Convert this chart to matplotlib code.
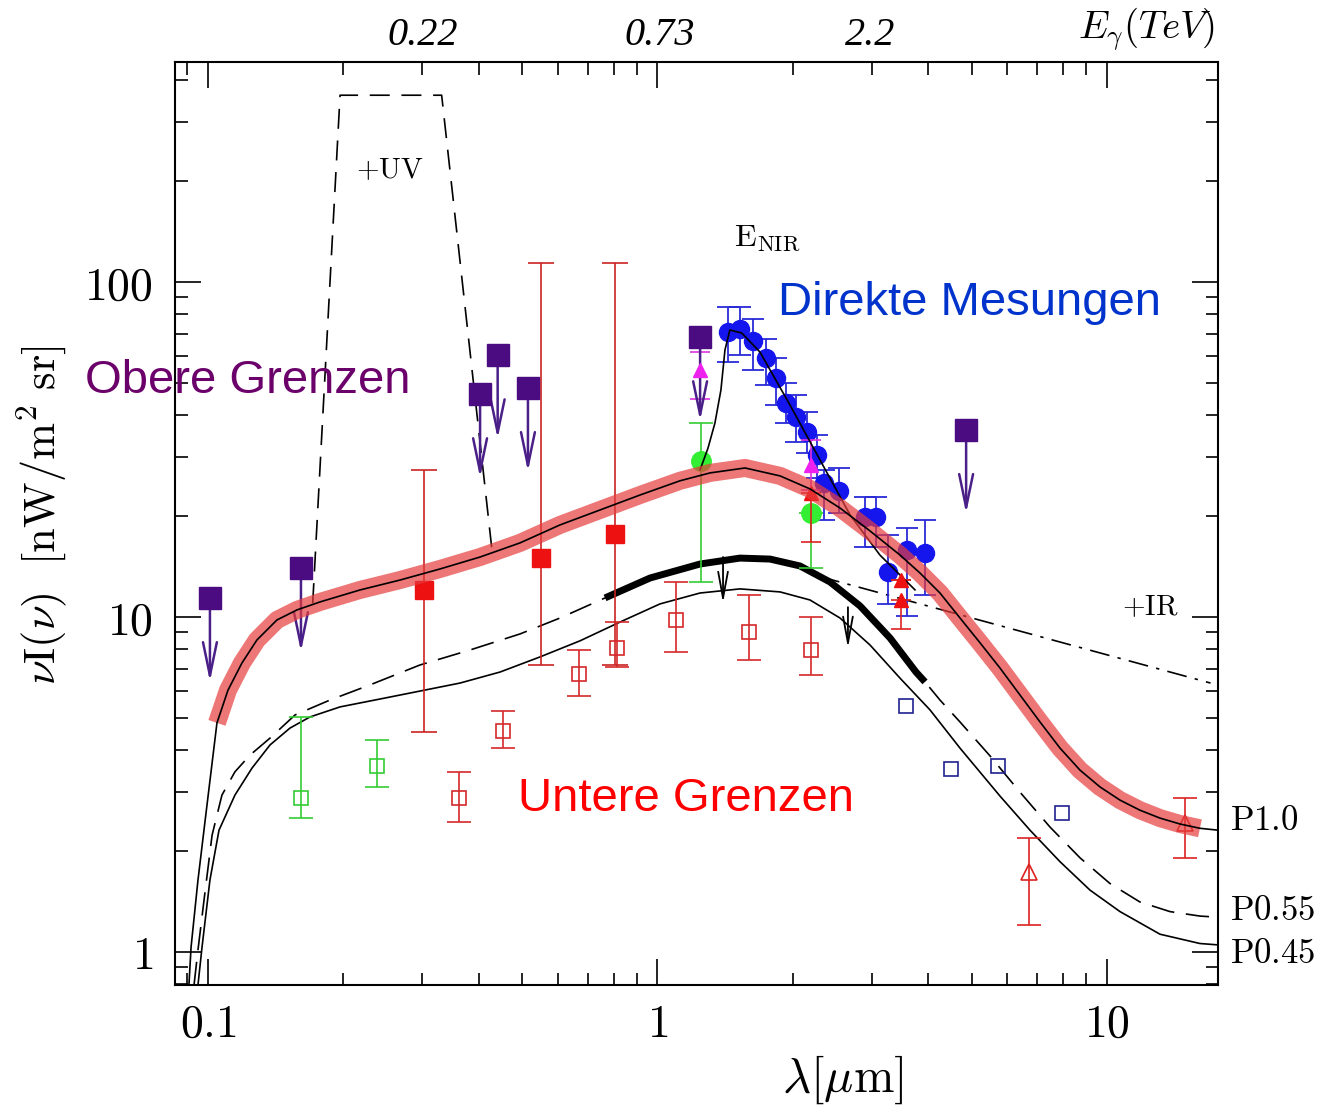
import numpy as np
import matplotlib
matplotlib.use("Agg")
import matplotlib.pyplot as plt
from matplotlib.ticker import FixedLocator, FixedFormatter, NullFormatter, LogLocator
from matplotlib.transforms import blended_transform_factory

plt.rcParams['mathtext.fontset'] = 'cm'

# ------------------------------------------------------------------ data
# upper limits (purple squares with arrows)
ul_x = [0.101, 0.161, 0.403, 0.441, 0.515, 1.244, 4.86]
ul_y = [11.4, 14.0, 46.3, 60.5, 48.3, 68.5, 36.2]

# lower limits, filled red squares with large error bars
rs_x = [0.302, 0.551, 0.803]
rs_y = [12.0, 15.0, 17.7]
rs_lo = [4.54, 7.19, 7.2]
rs_hi = [27.5, 114.0, 114.0]

# lower limits, open red squares
ors_x = [0.361, 0.453, 0.668, 0.813, 1.099, 1.60, 2.20]
ors_y = [2.88, 4.57, 6.76, 8.08, 9.80, 9.02, 7.97]
ors_lo = [2.44, 4.06, 5.81, 7.09, 7.87, 7.44, 6.71]
ors_hi = [3.45, 5.24, 7.97, 9.66, 12.7, 11.6, 10.0]

# lower limits, open green squares
ogs_x = [0.161, 0.238]
ogs_y = [2.88, 3.59]
ogs_lo = [2.51, 3.11]
ogs_hi = [5.03, 4.29]

# open blue squares
obs_x = [3.57, 4.50, 5.72, 7.94]
obs_y = [5.42, 3.52, 3.59, 2.60]

# open red triangles
ort_x = [6.70, 14.9]
ort_y = [1.73, 2.43]
ort_lo = [1.20, 1.91]
ort_hi = [2.19, 2.88]

# direct measurements (blue circles)
dm_x = [1.435, 1.526, 1.631, 1.743, 1.835, 1.932, 2.033, 2.151, 2.264, 2.347,
        2.534, 2.894, 3.062, 3.257, 3.591, 3.937]
dm_y = [70.9, 72.4, 66.7, 59.3, 51.7, 43.5, 39.5, 35.7, 30.5, 25.1,
        23.8, 19.9, 19.9, 13.6, 15.8, 15.5]
dm_lo = [57.7, 60.5, 54.6, 49.3, 42.9, 37.9, 33.3, 30.9, 26.0, 19.5,
         20.4, 16.2, 16.2, 10.9, 10.1, 11.6]
dm_hi = [84.2, 84.2, 77.6, 67.6, 59.3, 50.0, 46.0, 40.9, 34.9, 27.5,
         27.8, 22.8, 22.8, 17.6, 18.4, 19.5]

# green circles
gc_x = [1.250, 2.20]
gc_y = [29.2, 20.4]
gc_lo = [12.7, 14.0]
gc_hi = [37.9, 20.4]

# magenta triangles
mt_x = [1.244, 2.19]
mt_y = [54.6, 28.4]
mt_lo = [44.6, 24.0]
mt_hi = [62.0, 33.8]

# red filled triangles
rt_x = [2.19, 3.48, 3.48]
rt_y = [23.4, 12.9, 11.2]
rt_lo = [16.7, 12.9, 9.2]
rt_hi = [23.4, 12.9, 11.2]

# black upper-limit arrows on the lower curves
ba_x = [1.399, 2.653]
ba_top = [15.1, 10.7]
ba_bot = [11.0, 8.08]

# model P1.0
p10_x = [0.0907, 0.0917, 0.0950, 0.0990, 0.1047, 0.1108, 0.119, 0.1285, 0.1424,
         0.1578, 0.1775, 0.2178, 0.2674, 0.3282, 0.4029, 0.4945, 0.607, 0.7452,
         0.9147, 1.122, 1.309, 1.566, 1.874, 2.184, 2.547, 2.970, 3.463, 3.837,
         4.251, 4.71, 5.22, 5.781, 6.404, 7.096, 7.862, 8.71, 9.647, 10.69,
         11.84, 13.12, 14.54, 16.10, 17.66]
p10_y = [0.797, 1.035, 1.64, 2.60, 4.83, 6.05, 7.29, 8.54, 9.80,
         10.5, 11.09, 12.04, 12.89, 13.91, 15.10, 16.64, 18.83, 20.87,
         23.13, 25.50, 26.92, 27.85, 26.37, 24.12, 21.15, 18.07, 15.31, 13.53,
         11.79, 9.93, 8.37, 7.04, 5.85, 4.86, 4.06, 3.49, 3.11, 2.84,
         2.65, 2.51, 2.41, 2.34, 2.31]

# model P0.55
p055_x = [0.0931, 0.0950, 0.0980, 0.1021, 0.1074, 0.1148, 0.1240, 0.1374, 0.1562,
          0.1868, 0.2293, 0.2962, 0.3827, 0.4945, 0.607, 0.7644, 0.9623, 1.243,
          1.526, 1.780, 2.075, 2.420, 2.822, 3.290, 3.759, 3.937, 4.251, 4.71,
          5.492, 6.404, 7.469, 8.71, 10.16, 11.84, 13.81, 16.10, 17.66]
p055_y = [0.797, 1.014, 1.43, 2.23, 2.94, 3.45, 3.87, 4.35, 5.10,
          5.65, 6.27, 7.19, 7.97, 8.90, 9.93, 11.40, 13.07, 14.39,
          14.99, 14.89, 14.20, 12.72, 10.79, 8.66, 6.85, 6.40, 5.65, 4.86,
          3.85, 3.00, 2.36, 1.91, 1.60, 1.41, 1.32, 1.28, 1.27]

# model P0.45
p045_x = [0.0950, 0.0970, 0.1010, 0.1058, 0.1148, 0.1253, 0.1374, 0.1522, 0.1686,
          0.1967, 0.2413, 0.2962, 0.3636, 0.4464, 0.5479, 0.6726, 0.8256, 1.0129,
          1.243, 1.526, 1.874, 2.184, 2.547, 2.970, 3.463, 4.039, 4.71, 5.781,
          6.741, 7.862, 9.167, 10.69, 13.12, 16.10, 17.66]
p045_y = [0.797, 1.035, 1.64, 2.31, 2.94, 3.54, 4.15, 4.66, 5.03,
          5.39, 5.69, 6.01, 6.35, 6.85, 7.60, 8.49, 9.66, 10.94,
          11.79, 12.13, 11.88, 11.24, 9.93, 8.25, 6.57, 5.28, 4.06, 2.92,
          2.31, 1.86, 1.53, 1.32, 1.13, 1.06, 1.05]

# P1.0 + UV
uv_x = [0.171, 0.1967, 0.331, 0.430]
uv_y = [11.0, 361.0, 361.0, 15.1]

# P1.0 + IR
ir_x = [2.299, 17.0]
ir_y = [13.2, 6.35]

# E_NIR
nir_x = [1.244, 1.295, 1.342, 1.384, 1.413, 1.449, 1.54, 1.69, 1.972, 2.30,
         2.68, 3.126, 3.74]
nir_y = [27.5, 31.9, 37.9, 47.6, 62.7, 71.9, 70.4, 61.8, 42.9, 29.4,
         20.2, 15.3, 12.05]

# axes ticks and secondary energy labels
x_major = [0.1, 1, 10]
x_major_labels = ['0.1', '1', '10']
y_major = [1, 10, 100]
y_major_labels = ['1', '10', '100']
top_lam = [0.3, 1.013, 2.97]
top_lab = ['0.22', '0.73', '2.2']

# ------------------------------------------------------------------ figure
W, H = 1330, 1108
fig = plt.figure(figsize=(W / 100, H / 100), dpi=100)
ax = fig.add_axes([175 / W, 1 - 985 / H, (1218 - 175) / W, (985 - 62) / H])
ax.set_xscale('log')
ax.set_yscale('log')
ax.set_xlim(0.08445, 17.66)
ax.set_ylim(0.797, 453.6)

ax.xaxis.set_major_locator(FixedLocator(x_major))
ax.xaxis.set_major_formatter(FixedFormatter([r'$\mathrm{%s}$' % s for s in x_major_labels]))
ax.yaxis.set_major_locator(FixedLocator(y_major))
ax.yaxis.set_major_formatter(FixedFormatter([r'$\mathrm{%s}$' % s for s in y_major_labels]))
for a in (ax.xaxis, ax.yaxis):
    a.set_minor_locator(LogLocator(base=10, subs=np.arange(2, 10), numticks=50))
    a.set_minor_formatter(NullFormatter())
ax.tick_params(which='both', direction='in', top=True, right=True, width=1.2)
ax.tick_params(which='major', length=19, labelsize=33)
ax.tick_params(axis='x', which='major', pad=12)
ax.tick_params(axis='y', which='major', pad=16)
ax.tick_params(which='minor', length=9)
for s in ax.spines.values():
    s.set_linewidth(1.5)

# model curves
ax.plot(p045_x, p045_y, color='black', lw=1.2, zorder=2)
ax.plot(p055_x, p055_y, color='black', lw=1.2, dashes=(14, 7), zorder=2)
p055_x_arr = np.array(p055_x)
p055_y_arr = np.array(p055_y)
bold = (p055_x_arr >= 0.76) & (p055_x_arr <= 3.94)
ax.plot(p055_x_arr[bold], p055_y_arr[bold], color='black', lw=5.0,
        solid_capstyle='butt', solid_joinstyle='round', zorder=3)
ax.plot(uv_x, uv_y, color='black', lw=1.2, dashes=(12, 7), zorder=2)
ax.plot(ir_x, ir_y, color='black', lw=1.2, dashes=(12, 5, 2, 5), zorder=2)

# black limit arrows
for x, t, b in zip(ba_x, ba_top, ba_bot):
    ax.annotate('', xy=(x, b), xytext=(x, t),
                arrowprops=dict(arrowstyle='->,head_length=1.9,head_width=0.35',
                                color='black', lw=1.3, shrinkA=0, shrinkB=0),
                zorder=3)

def asym(y, lo, hi):
    y = np.array(y)
    return [y - np.array(lo), np.array(hi) - y]

# lower limits
ax.errorbar(ors_x, ors_y, yerr=asym(ors_y, ors_lo, ors_hi), fmt='s', ms=9.5,
            mfc='none', mec='#d42a2a', mew=1.2, ecolor='#d42a2a', elinewidth=1.2,
            capsize=8.5, capthick=1.2, zorder=4)
ax.errorbar(ogs_x, ogs_y, yerr=asym(ogs_y, ogs_lo, ogs_hi), fmt='s', ms=9.5,
            mfc='none', mec='#33cc33', mew=1.2, ecolor='#33cc33', elinewidth=1.2,
            capsize=8.5, capthick=1.2, zorder=4)
ax.plot(obs_x, obs_y, 's', ms=9.5, mfc='none', mec='#202090', mew=1.2, zorder=4)
ax.errorbar(ort_x, ort_y, yerr=asym(ort_y, ort_lo, ort_hi), fmt='^', ms=12,
            mfc='none', mec='#dd2222', mew=1.2, ecolor='#dd2222', elinewidth=1.2,
            capsize=8.5, capthick=1.2, zorder=4)
ax.errorbar(rs_x, rs_y, yerr=asym(rs_y, rs_lo, rs_hi), fmt='s', ms=13.5,
            mfc='#ee1111', mec='#ee1111', ecolor='#cc2222', elinewidth=1.2,
            capsize=9.5, capthick=1.2, zorder=4)

# direct measurements
ax.errorbar(gc_x, gc_y, yerr=asym(gc_y, gc_lo, gc_hi), fmt='o', ms=14,
            mfc='#33ee33', mec='#33ee33', ecolor='#33cc33', elinewidth=1.2,
            capsize=8.5, capthick=1.2, zorder=4)
ax.errorbar(dm_x, dm_y, yerr=asym(dm_y, dm_lo, dm_hi), fmt='o', ms=13,
            mfc='#1515ee', mec='#1515ee', ecolor='#2a2ad8', elinewidth=1.3,
            capsize=8, capthick=1.3, zorder=4)
ax.errorbar(mt_x, mt_y, yerr=asym(mt_y, mt_lo, mt_hi), fmt='^', ms=10,
            mfc='#ee22ee', mec='#ee22ee', ecolor='#dd33dd', elinewidth=1.2,
            capsize=7, capthick=1.2, zorder=5)
ax.errorbar(rt_x, rt_y, yerr=asym(rt_y, rt_lo, rt_hi), fmt='^', ms=10,
            mfc='#ee1111', mec='#ee1111', ecolor='#dd2222', elinewidth=1.2,
            capsize=7, capthick=1.2, zorder=5)
ax.plot(nir_x, nir_y, color='black', lw=1.2, zorder=5)

# upper limits
for x, y in zip(ul_x, ul_y):
    ax.annotate('', xy=(x, y * 10 ** -0.25), xytext=(x, y),
                arrowprops=dict(arrowstyle='->,head_length=2.4,head_width=0.5',
                                color='#4a2088', lw=1.8, shrinkA=0, shrinkB=0),
                zorder=5)
ax.plot(ul_x, ul_y, 's', ms=15.5, mfc='#4a0c80', mec='#4a0c80', zorder=6)

# P1.0 model with highlight band
p10_x_arr = np.array(p10_x)
p10_y_arr = np.array(p10_y)
band = (p10_x_arr >= 0.104) & (p10_x_arr <= 16.2)
ax.plot(p10_x_arr[band], p10_y_arr[band], color='#e63c3c', alpha=0.7, lw=13,
        solid_capstyle='butt', solid_joinstyle='round', zorder=7)
ax.plot(p10_x, p10_y, color='black', lw=1.2, zorder=8)

# annotations inside the plot
ax.text(0.254, 216, r'$\mathrm{+UV}$', fontsize=21, ha='center', va='center', zorder=9)
ax.text(1.48, 136, r'$\mathrm{E_{NIR}}$', fontsize=23, ha='left', va='center', zorder=9)
ax.text(12.47, 10.7, r'$\mathrm{+IR}$', fontsize=21, ha='center', va='center', zorder=9)

# secondary axis: photon energy labels
trans = blended_transform_factory(ax.transData, ax.transAxes)
for lam, lab in zip(top_lam, top_lab):
    ax.text(lam, 1.029, lab, transform=trans, fontsize=29, family='Liberation Serif',
            style='italic', ha='center', va='center')
ax.text(0.931, 1.035, r'$E_\gamma(TeV)$', transform=ax.transAxes, fontsize=28,
        ha='center', va='center')

# axis titles
fig.text(42 / W, 1 - 515 / H, r'$\nu\mathrm{I}(\nu)\ \ [\mathrm{nW/m^2\ sr}]$',
         rotation=90, fontsize=32, ha='center', va='center')
fig.text(843 / W, 1 - 1080 / H, r'$\lambda[\mu\mathrm{m}]$', fontsize=35,
         ha='center', va='center')

# model names at the right edge
for lab, yp in [('P1.0', 820), ('P0.55', 910), ('P0.45', 953)]:
    fig.text(1230 / W, 1 - yp / H, r'$\mathrm{%s}$' % lab, fontsize=25,
             ha='left', va='center')

# group labels
big = dict(family='Liberation Sans', fontsize=34, ha='left', va='baseline')
fig.text(85 / W, 1 - 393 / H, 'Obere Grenzen', color='#6b006b', **big)
fig.text(778 / W, 1 - 315 / H, 'Direkte Mesungen', color='#0033cc', **big)
fig.text(518 / W, 1 - 811 / H, 'Untere Grenzen', color='#ff0000', **big)

fig.savefig('out.png', dpi=100)
